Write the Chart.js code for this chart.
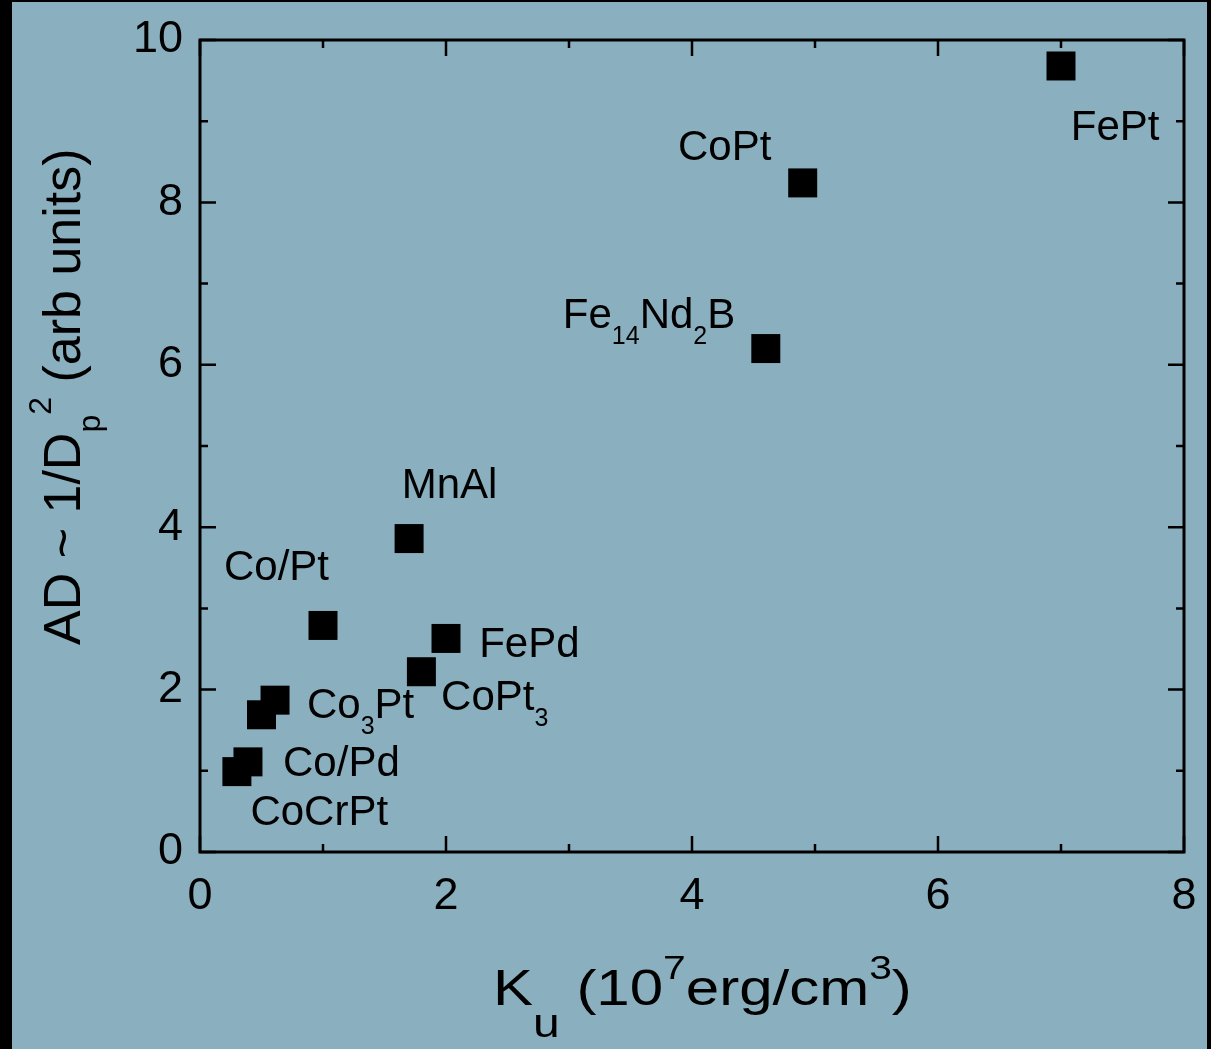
<!DOCTYPE html>
<html>
<head>
<meta charset="utf-8">
<script src="https://cdn.jsdelivr.net/npm/chart.js@4"></script>
<style>
  html, body { margin: 0; padding: 0; background: #000; }
  #wrap { position: absolute; left: 12px; top: 2px; width: 1195px; height: 1047px; background: #8aafbe; }
</style>
</head>
<body>
<div id="wrap"><canvas id="myChart" width="1195" height="1047"></canvas></div>
<script>
// points: Ku (10^7 erg/cm^3) vs AD ~ 1/Dp^2
const kuValues = [0.30, 0.39, 0.50, 0.61, 1.00, 1.70, 1.80, 2.00, 4.60, 4.90, 7.00];
const adValues = [0.99, 1.11, 1.69, 1.87, 2.79, 3.86, 2.22, 2.63, 6.20, 8.24, 9.68];

// material labels, _{} = subscript
const labelText = ['FePt', 'CoPt', 'Fe_{14}Nd_{2}B', 'MnAl', 'Co/Pt', 'FePd', 'CoPt_{3}', 'Co_{3}Pt', 'Co/Pd', 'CoCrPt'];
// label anchor (left edge, baseline) in data units
const labelX = [7.08, 3.886, 2.95, 1.64, 0.195, 2.27, 1.96, 0.87, 0.675, 0.41];
const labelY = [8.77, 8.52, 6.45, 4.36, 3.35, 2.40, 1.75, 1.65, 0.94, 0.33];

const xTicks = [0, 2, 4, 6, 8];
const yTicks = [0, 2, 4, 6, 8, 10];

const FONT = '"Liberation Sans", Arial, sans-serif';

function parseRich(str, size, subSize, subDy) {
  const parts = [];
  const re = /([_^])\{([^}]*)\}/g;
  let last = 0, m;
  while ((m = re.exec(str)) !== null) {
    if (m.index > last) parts.push({ t: str.slice(last, m.index), s: size, dy: 0 });
    parts.push({ t: m[2], s: subSize, dy: m[1] === '_' ? subDy : -subDy });
    last = re.lastIndex;
  }
  if (last < str.length) parts.push({ t: str.slice(last), s: size, dy: 0 });
  return parts;
}

function drawRich(ctx, parts, x, y) {
  ctx.textAlign = 'left';
  ctx.textBaseline = 'alphabetic';
  parts.forEach(p => {
    ctx.font = p.s + 'px ' + FONT;
    ctx.fillText(p.t, x, y + p.dy);
    x += ctx.measureText(p.t).width;
  });
}

const framePlugin = {
  id: 'frame',
  afterDatasetsDraw(chart) {
    const ctx = chart.ctx;
    const a = chart.chartArea;
    const xs = chart.scales.x, ys = chart.scales.y;
    ctx.save();
    ctx.strokeStyle = '#000';
    ctx.lineWidth = 3;
    ctx.strokeRect(a.left, a.top, a.right - a.left, a.bottom - a.top);
    ctx.lineWidth = 2.5;
    ctx.beginPath();
    // x ticks, top and bottom, pointing in
    for (let v = xs.min; v <= xs.max; v++) {
      const px = xs.getPixelForValue(v);
      const len = v % 2 === 0 ? 16 : 8;
      ctx.moveTo(px, a.bottom); ctx.lineTo(px, a.bottom - len);
      ctx.moveTo(px, a.top); ctx.lineTo(px, a.top + len);
    }
    for (let v = ys.min; v <= ys.max; v++) {
      const py = ys.getPixelForValue(v);
      const len = v % 2 === 0 ? 16 : 8;
      ctx.moveTo(a.left, py); ctx.lineTo(a.left + len, py);
      ctx.moveTo(a.right, py); ctx.lineTo(a.right - len, py);
    }
    ctx.stroke();

    // point labels
    ctx.fillStyle = '#000';
    labelText.forEach((t, i) => {
      drawRich(ctx, parseRich(t, 42, 25, 16), xs.getPixelForValue(labelX[i]), ys.getPixelForValue(labelY[i]));
    });

    // x title
    ctx.save();
    ctx.translate(481, 1003);
    ctx.scale(1.2, 1);
    drawRich(ctx, [
      { t: 'K', s: 50, dy: 0 },
      { t: 'u', s: 40, dy: 32 },
      { t: ' (10', s: 50, dy: 0 },
      { t: '7', s: 34, dy: -26 },
      { t: 'erg/cm', s: 50, dy: 0 },
      { t: '3', s: 34, dy: -26 },
      { t: ')', s: 50, dy: 0 }
    ], 0, 0);
    ctx.restore();

    // y title
    ctx.save();
    ctx.translate(68, 643);
    ctx.rotate(-Math.PI / 2);
    drawRich(ctx, [
      { t: 'AD ~ 1/D', s: 52, dy: 0 },
      { t: 'p', s: 32, dy: 20 },
      { t: '2', s: 32, dy: -29 },
      { t: ' (arb units)', s: 52, dy: 0 }
    ], 0, 0);
    ctx.restore();
    ctx.restore();
  }
};

const points = kuValues.map((k, i) => ({ x: k, y: adValues[i] }));

const config = {
  type: 'scatter',
  data: {
    datasets: [{
      data: points,
      pointStyle: 'rect',
      pointRadius: 20.5,
      pointHoverRadius: 20.5,
      backgroundColor: '#000',
      borderColor: '#000',
      borderWidth: 0,
      clip: false
    }]
  },
  options: {
    responsive: false,
    devicePixelRatio: 1,
    animation: false,
    layout: { autoPadding: false, padding: { top: 38, right: 23, left: 0, bottom: 0 } },
    scales: {
      x: {
        type: 'linear',
        min: 0,
        max: 8,
        afterFit: s => { s.height = 197; s.paddingLeft = 0; s.paddingRight = 0; },
        afterBuildTicks: s => { s.ticks = xTicks.map(v => ({ value: v })); },
        ticks: { font: { size: 45, family: FONT }, color: '#000', padding: 18, maxRotation: 0 },
        grid: { display: false, drawTicks: false },
        border: { display: false }
      },
      y: {
        min: 0,
        max: 10,
        afterFit: s => { s.width = 188; s.paddingTop = 0; s.paddingBottom = 0; },
        afterBuildTicks: s => { s.ticks = yTicks.map(v => ({ value: v })); },
        ticks: { font: { size: 45, family: FONT }, color: '#000', padding: 17 },
        grid: { display: false, drawTicks: false },
        border: { display: false }
      }
    },
    plugins: {
      legend: { display: false },
      tooltip: { enabled: false }
    }
  },
  plugins: [framePlugin]
};

var myChart = new Chart(document.getElementById('myChart'), config);
</script>
</body>
</html>
